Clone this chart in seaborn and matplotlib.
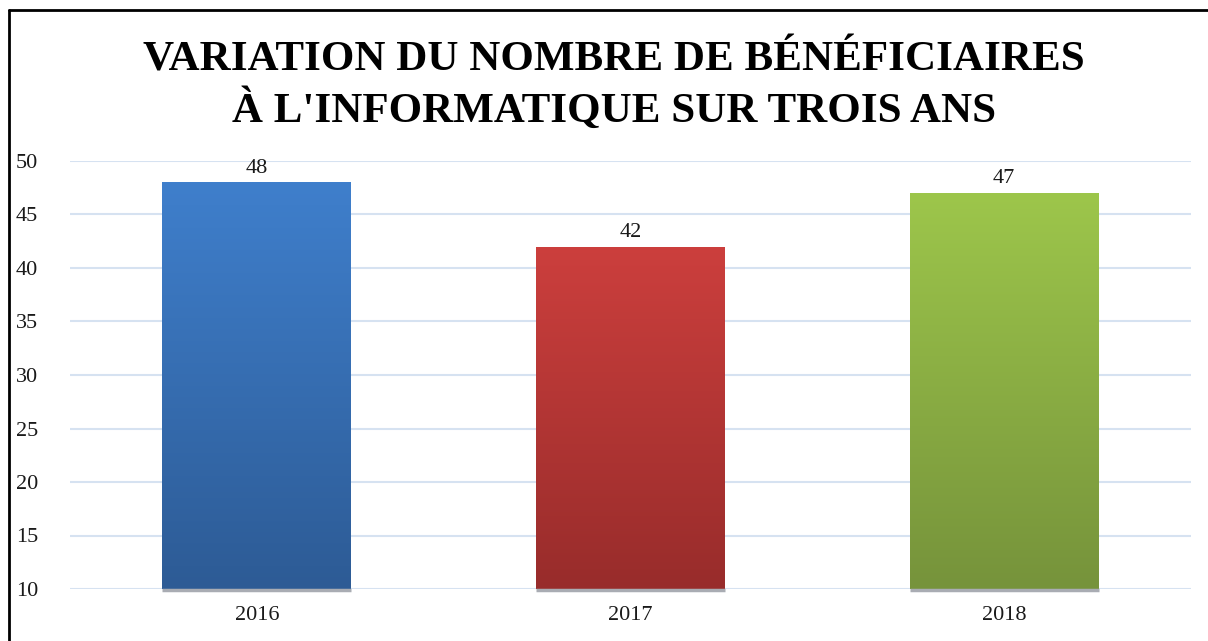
import matplotlib.pyplot as plt
import matplotlib.colors as mcolors
import numpy as np
import pandas as pd
import seaborn as sns
from matplotlib.lines import Line2D

years = ["2016", "2017", "2018"]
beneficiaires = [48, 42, 47]
top_colors = ["#3f7fcc", "#cc3f3d", "#9dc64b"]
bottom_colors = ["#2d5b95", "#982c2b", "#76933b"]

df = pd.DataFrame({"annee": years, "nombre": beneficiaires})

sns.set_theme(style="white")
plt.rcParams["font.family"] = ["Liberation Serif", "DejaVu Serif"]

fig = plt.figure(figsize=(12.08, 6.41), dpi=100)
ax = fig.add_axes([70 / 1208, 52 / 641, 1121 / 1208, 428 / 641])

sns.barplot(data=df, x="annee", y="nombre", width=0.505, color="white", ax=ax, zorder=3)
ax.set_ylim(10, 50)
ax.set_xlim(-0.5, 2.5)

# gradient fill on each bar
for patch, c_top, c_bot in zip(ax.patches, top_colors, bottom_colors):
    x, y = patch.get_x(), patch.get_y()
    w, h = patch.get_width(), patch.get_height()
    cmap = mcolors.LinearSegmentedColormap.from_list("g", [c_bot, c_top])
    grad = np.linspace(0, 1, 256).reshape(-1, 1)
    im = ax.imshow(grad, cmap=cmap, origin="lower", aspect="auto",
                   extent=[x, x + w, 10, y + h], zorder=3)
    im.set_clip_path(patch)
    patch.set_facecolor("none")
    patch.set_edgecolor("none")
    ax.plot([x, x + w], [9.93, 9.93], color="#a9acb3", lw=2.5, zorder=4,
            solid_capstyle="butt", clip_on=False)
    ax.text(x + w / 2, y + h + 0.45, f"{int(y + h)}", ha="center", va="bottom",
            fontsize=16, color="#1a1a1a", zorder=5)

ax.set_aspect("auto")
ax.set_xlim(-0.5, 2.5)
ax.set_ylim(10, 50)
ax.set_yticks(range(10, 51, 5))
ax.yaxis.grid(True, color="#d6e2f1", lw=1.5, zorder=0)
ax.set_axisbelow(True)
for s in ax.spines.values():
    s.set_visible(False)
ax.tick_params(axis="y", length=0, pad=23, labelsize=16, labelcolor="#1a1a1a")
ax.tick_params(axis="x", length=0, pad=12, labelsize=16, labelcolor="#1a1a1a")
ax.set_xlabel("")
ax.set_ylabel("")

fig.text(0.508, 0.905, "VARIATION DU NOMBRE DE BÉNÉFICIAIRES", ha="center", va="center",
         fontsize=31, fontweight="bold", color="black")
fig.text(0.508, 0.829, "À L'INFORMATIQUE SUR TROIS ANS", ha="center", va="center",
         fontsize=31, fontweight="bold", color="black")

# outer frame (left and top edges)
fig.add_artist(Line2D([9 / 1208, 9 / 1208], [0, 1 - 10 / 641], color="black", lw=2,
                      transform=fig.transFigure))
fig.add_artist(Line2D([9 / 1208, 1], [1 - 10 / 641, 1 - 10 / 641], color="black", lw=2,
                      transform=fig.transFigure))

fig.savefig("out.png", dpi=100)
